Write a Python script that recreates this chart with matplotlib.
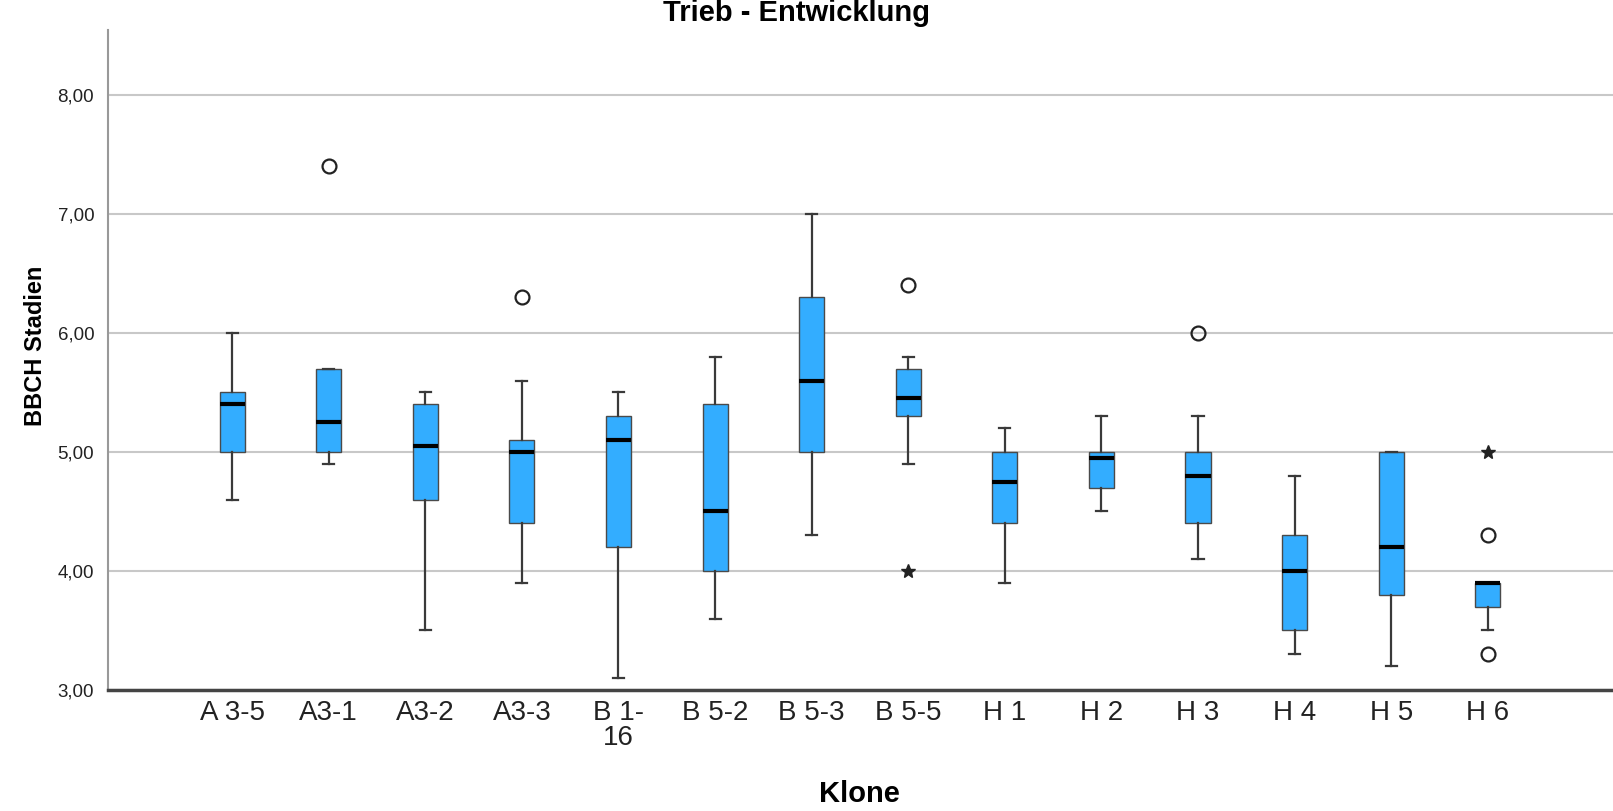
import numpy as np
import matplotlib.pyplot as plt

plt.rcParams['font.family'] = ['Liberation Sans', 'DejaVu Sans']

# Klone and their box statistics
klone = ['A 3-5', 'A3-1', 'A3-2', 'A3-3', 'B 1-\n16', 'B 5-2', 'B 5-3', 'B 5-5',
         'H 1', 'H 2', 'H 3', 'H 4', 'H 5', 'H 6']
whis_lo = [4.6, 4.9, 3.5, 3.9, 3.1, 3.6, 4.3, 4.9, 3.9, 4.5, 4.1, 3.3, 3.2, 3.5]
q1      = [5.0, 5.0, 4.6, 4.4, 4.2, 4.0, 5.0, 5.3, 4.4, 4.7, 4.4, 3.5, 3.8, 3.7]
median  = [5.4, 5.25, 5.05, 5.0, 5.1, 4.5, 5.6, 5.45, 4.75, 4.95, 4.8, 4.0, 4.2, 3.9]
q3      = [5.5, 5.7, 5.4, 5.1, 5.3, 5.4, 6.3, 5.7, 5.0, 5.0, 5.0, 4.3, 5.0, 3.9]
whis_hi = [6.0, 5.7, 5.5, 5.6, 5.5, 5.8, 7.0, 5.8, 5.2, 5.3, 5.3, 4.8, 5.0, 3.9]

# outliers (circles) and extremes (stars): (index of klon, value)
ausreisser = [(1, 7.4), (3, 6.3), (7, 6.4), (10, 6.0), (13, 4.3), (13, 3.3)]
extreme = [(7, 4.0), (13, 5.0)]

fig = plt.figure(figsize=(16.13, 8.11), dpi=100)
ax = fig.add_axes([0.067, 0.1492, 0.933, 0.8138])

stats = []
for i in range(len(klone)):
    stats.append({'whislo': whis_lo[i], 'q1': q1[i], 'med': median[i],
                  'q3': q3[i], 'whishi': whis_hi[i], 'fliers': []})

pos = np.arange(len(klone))
ax.bxp(stats, positions=pos, widths=0.26, capwidths=0.115, patch_artist=True,
       showfliers=False,
       boxprops=dict(facecolor='#33adff', edgecolor='#4a4a4a', linewidth=1.0),
       medianprops=dict(color='black', linewidth=3),
       whiskerprops=dict(color='#3a3a3a', linewidth=1.6),
       capprops=dict(color='#3a3a3a', linewidth=1.6), zorder=3)

ax.plot([pos[i] for i, v in ausreisser], [v for i, v in ausreisser], 'o',
        ms=10, mfc='none', mec='#222222', mew=1.6, zorder=4)
ax.plot([pos[i] for i, v in extreme], [v for i, v in extreme], '*',
        ms=10, color='#222222', zorder=4)

ax.set_xlim(-1.284, 14.296)
ax.set_ylim(3, 8.546)
ax.set_yticks([3, 4, 5, 6, 7, 8])
ax.set_yticklabels(['3,00', '4,00', '5,00', '6,00', '7,00', '8,00'], fontsize=13.5)
ax.set_xticks(pos)
ax.set_xticklabels(klone, fontsize=20, linespacing=0.95)
ax.tick_params(axis='both', length=0, colors='#222222')
ax.tick_params(axis='x', pad=7.5)
ax.tick_params(axis='y', pad=10)

ax.grid(axis='y', color='#c8c8c8', linewidth=1.5, zorder=0)
ax.set_axisbelow(True)
for s in ['top', 'right']:
    ax.spines[s].set_visible(False)
ax.spines['left'].set_color('#999999')
ax.spines['left'].set_linewidth(1.5)
ax.spines['bottom'].set_color('#444444')
ax.spines['bottom'].set_linewidth(2.5)

fig.text(0.494, 0.974, 'Trieb - Entwicklung', fontsize=21, fontweight='bold',
         ha='center', va='baseline')
fig.text(0.022, 0.573, 'BBCH Stadien', fontsize=17, fontweight='bold',
         rotation=90, ha='center', va='center')
fig.text(0.5326, 0.011, 'Klone', fontsize=21, fontweight='bold',
         ha='center', va='baseline')

fig.savefig('out.png', dpi=100)
